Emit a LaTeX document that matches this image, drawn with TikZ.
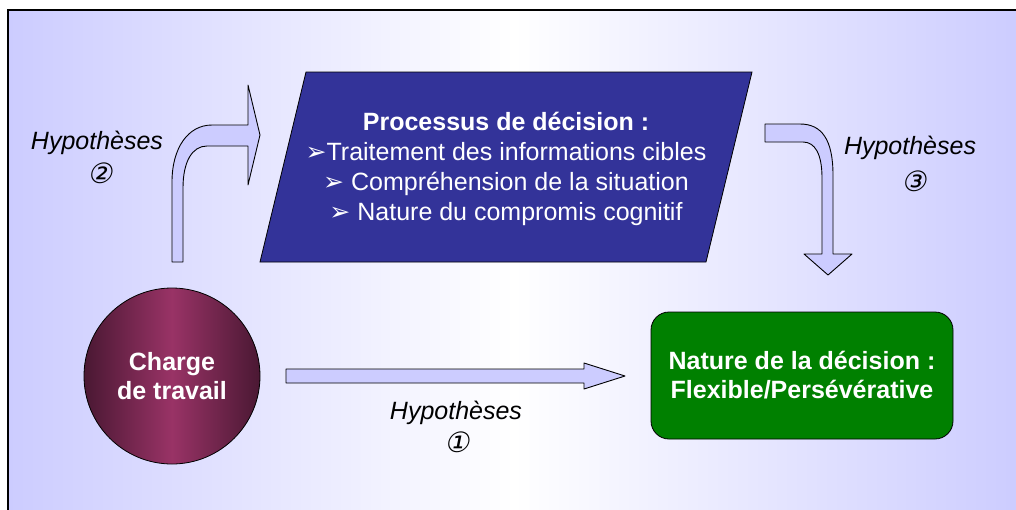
\documentclass[tikz,border=0pt]{standalone}
\usepackage{fontspec}
\setmainfont{Liberation Sans}
\newfontfamily\djv{DejaVu Sans}
\newfontfamily\djvsl{DejaVu Sans}[FakeSlant=0.2]
\definecolor{bglav}{HTML}{CCCCFF}
\definecolor{procblue}{HTML}{333399}
\definecolor{wine}{HTML}{993366}
\definecolor{winedark}{HTML}{4A1833}
\definecolor{decgreen}{HTML}{008000}
\definecolor{arrowfill}{HTML}{CCCCFF}
\tikzset{
  blockarrow/.style={draw=black, line width=0.9pt, fill=arrowfill, line join=round},
  boxtext/.style={text=white, font=\fontsize{25}{30}\selectfont, align=center},
  hyp/.style={font=\itshape\fontsize{25}{30}\selectfont, text=black},
  num/.style={font=\djvsl\fontsize{28}{30}\selectfont, text=black},
}
\newcommand{\bul}{{\djv\fontsize{25}{30}\selectfont ➢}}
\begin{document}
\begin{tikzpicture}[x=1pt,y=-1pt]
\useasboundingbox (0,0) rectangle (1016,509);
% background
\shade[left color=bglav, right color=bglav, middle color=white] (8,10) rectangle (1020,515);
\draw[line width=1.6pt] (8,515) -- (8,10) -- (1020,10);

% process parallelogram
\fill[procblue, draw=black, line width=0.8pt] (306,72) -- (752,72) -- (706,262) -- (260,262) -- cycle;
\node[boxtext] (proc) at (506,169) {\textbf{Processus de décision :}\\
\bul Traitement des informations cibles\\
\bul\ Compréhension de la situation\\
\bul\ Nature du compromis cognitif};

% charge de travail
\node[circle, draw=black, line width=0.8pt, minimum size=176pt, inner sep=0pt,
      left color=winedark, right color=winedark, middle color=wine,
      boxtext, font=\bfseries\fontsize{25}{29}\selectfont] (charge) at (172,376) {Charge\\de travail};

% nature de la decision
\node[draw=black, line width=0.8pt, fill=decgreen, rounded corners=18pt,
      minimum width=302pt, minimum height=127pt,
      boxtext, font=\bfseries\fontsize{25}{29}\selectfont] (nature) at (802,375.5) {Nature de la décision :\\Flexible/Persévérative};

% arrow 1 (straight)
\draw[blockarrow] (286,369) -- (584,369) -- (584,363) -- (625,376) -- (584,389) -- (584,383) -- (286,383) -- cycle;
% arrow 2 (bent up-right)
\draw[blockarrow] (172,262) -- (172,182) .. controls (172,148) and (188,125) .. (212,125)
  -- (248,125) -- (248,85) -- (260,135) -- (248,185) -- (248,146) -- (207,146)
  .. controls (192,146) and (183,162) .. (183,188) -- (183,262) -- cycle;
% arrow 3 (bent down)
\draw[blockarrow] (765,124) -- (800,124) .. controls (822,124) and (833,140) .. (833,175)
  -- (833,254) -- (852,254) -- (828,275) -- (804,254) -- (822,254) -- (822,178)
  .. controls (822,154) and (815,142) .. (803,142) -- (765,142) -- cycle;

% labels
\node[hyp] (h2) at (97,143) {Hypothèses};
\node[num] (n2) at (100,173) {②};
\node[hyp] (h3) at (910,148) {Hypothèses};
\node[num] (n3) at (914,181) {③};
\node[hyp] (h1) at (456,413) {Hypothèses};
\node[num] (n1) at (457,442) {①};
\end{tikzpicture}
\end{document}
